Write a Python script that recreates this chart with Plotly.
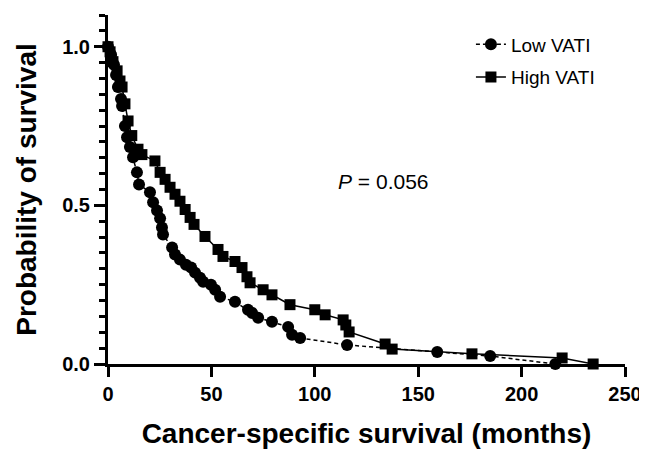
import plotly.graph_objects as go

# ---- data ----
low_t = [0, 1.5, 2.9, 3.9, 4.8, 6.3, 6.8, 8.2, 9.2, 10.6, 12.1, 14.0, 15.0, 20.3, 21.8, 23.7,
         25.2, 26.1, 26.6, 31.0, 32.4, 34.8, 37.7, 40.2, 42.1, 44.5, 46.0, 49.8, 51.8, 54.2,
         61.4, 67.7, 69.7, 72.6, 79.3, 87.1, 89.0, 92.9, 115.6, 159.2, 184.8, 216.3]
low_s = [1.0, 0.975, 0.943, 0.911, 0.873, 0.835, 0.813, 0.75, 0.715, 0.684, 0.652, 0.604, 0.566,
         0.541, 0.51, 0.484, 0.459, 0.43, 0.408, 0.367, 0.345, 0.329, 0.313, 0.304, 0.288, 0.272,
         0.259, 0.25, 0.234, 0.212, 0.196, 0.171, 0.161, 0.146, 0.133, 0.117, 0.092, 0.082, 0.06,
         0.038, 0.025, 0.0]

high_t = [0, 1.0, 2.4, 4.4, 5.8, 6.8, 8.2, 9.7, 11.5, 14.5, 16.4, 22.7, 25.2, 27.6, 30.0, 32.4,
          34.8, 37.3, 39.7, 41.6, 46.9, 53.2, 55.6, 61.4, 64.8, 67.2, 68.7, 75.0, 79.3, 88.0,
          100.0, 105.0, 113.7, 115.0, 116.6, 134.0, 137.4, 176.0, 219.6, 234.6]
high_s = [1.0, 0.984, 0.953, 0.924, 0.892, 0.873, 0.82, 0.766, 0.72, 0.677, 0.66, 0.64, 0.604,
          0.582, 0.557, 0.535, 0.513, 0.487, 0.462, 0.44, 0.402, 0.361, 0.339, 0.323, 0.304,
          0.275, 0.256, 0.234, 0.218, 0.187, 0.171, 0.155, 0.139, 0.123, 0.101, 0.063, 0.047,
          0.032, 0.019, 0.0]

x_ticks = [0, 50, 100, 150, 200, 250]
y_ticks = [0.0, 0.5, 1.0]
y_tick_text = ["0.0", "0.5", "1.0"]

FONT = "Liberation Sans, Arial, sans-serif"

fig = go.Figure()
fig.add_trace(go.Scatter(
    x=low_t, y=low_s, name="Low VATI", mode="lines+markers",
    line=dict(color="black", width=1.5, dash="4px,3px"),
    marker=dict(symbol="circle", size=12, color="black"),
    cliponaxis=False, legendgroup="a"))
fig.add_trace(go.Scatter(
    x=high_t, y=high_s, name="High VATI", mode="lines+markers",
    line=dict(color="black", width=1.5),
    marker=dict(symbol="square", size=11, color="black"),
    cliponaxis=False, legendgroup="b"))

tickfont = dict(family=FONT, size=20, color="black", weight="bold")
titlefont = dict(family=FONT, size=28, color="black")

# the page body adds an 8px offset, so the figure is 8px smaller and shifted
fig.update_layout(
    width=639, height=446,
    margin=dict(l=100, r=22, t=7, b=90),
    plot_bgcolor="white", paper_bgcolor="white",
    showlegend=True,
    legend=dict(x=0.702, y=0.97, xanchor="left", yanchor="top",
                font=dict(family=FONT, size=19, color="black"),
                bgcolor="rgba(0,0,0,0)", traceorder="grouped", tracegroupgap=5,
                itemwidth=30),
    annotations=[dict(x=133, y=0.576, xref="x", yref="y",
                      text="<i>P</i> = 0.056", showarrow=False,
                      font=dict(family=FONT, size=21, color="black"))],
)
fig.update_xaxes(
    range=[0, 250], tickvals=x_ticks, ticks="outside", ticklen=10, tickwidth=3,
    showline=True, linewidth=3, linecolor="black", tickcolor="black",
    showgrid=False, zeroline=False, tickfont=tickfont, automargin=False,
    title=dict(text="<b>Cancer-specific survival (months)</b>", font=titlefont, standoff=20),
)
fig.update_yaxes(
    range=[0, 1.1], tickvals=y_ticks, ticktext=y_tick_text, ticks="outside", ticklen=11, tickwidth=3,
    showline=True, linewidth=3, linecolor="black", tickcolor="black",
    minor=dict(dtick=0.05, ticks="outside", ticklen=6, tickwidth=3, tickcolor="black", showgrid=False),
    showgrid=False, zeroline=False, tickfont=tickfont, automargin=False,
    title=dict(text="<b>Probability of survival</b>", font=titlefont, standoff=18),
)

fig.write_html("out.html")
